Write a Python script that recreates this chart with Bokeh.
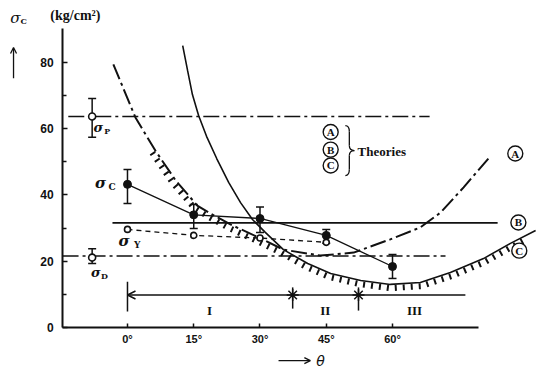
import numpy as np
from bokeh.plotting import figure
from bokeh.models import (Range1d, FixedTicker, Label, Arrow, OpenHead, Whisker,
                          TeeHead, ColumnDataSource)
from bokeh.core.properties import value
from bokeh.embed import file_html
from bokeh.resources import INLINE

# ---------------- data ----------------
theta_ticks = [0, 15, 30, 45, 60]
theta_tick_labels = ["0°", "15°", "30°", "45°", "60°"]
sigma_ticks = [0, 20, 40, 60, 80]
sigma_minor_ticks = [10, 30, 50, 70]

# sigma_C measured (mean, upper, lower)
sc_theta = [0, 15, 30, 45, 60]
sc_mean = [43.2, 34.0, 32.9, 27.8, 18.4]
sc_upper = [47.7, 37.1, 36.4, 29.6, 22.0]
sc_lower = [37.4, 29.9, 28.7, 25.4, 14.8]

# sigma_Y measured
sy_theta = [0, 15, 30, 45]
sy_mean = [29.6, 27.8, 27.0, 25.7]

# sigma_P and sigma_D (left of 0 deg)
sp_theta = [-8]
sp_mean = [63.7]
sp_upper = [69.1]
sp_lower = [57.4]
sd_theta = [-8]
sd_mean = [21.1]
sd_upper = [23.8]
sd_lower = [19.3]

# theory curve A (dash-dot)
theory_a_theta = [-3.2, 1.8, 6.3, 10.9, 15.8, 18.8, 23.3, 30.1, 35.3, 43.7,
                  51.2, 59.5, 66.3, 70.9, 76.1, 81.7]
theory_a_value = [79.4, 63.4, 53.4, 44.4, 36.8, 34.4, 31.1, 26.9, 23.5, 21.7,
                  22.6, 26.6, 30.2, 34.7, 42.3, 51.0]

# theory curve C (solid)
theory_c_theta = [12.5, 13.6, 14.7, 16.1, 17.9, 20.2, 22.9, 25.6, 28.3, 31.2,
                  35.3, 40.8, 46.0, 52.8, 59.5, 66.3, 73.1, 80.6, 86.7, 92.4]
theory_c_value = [85.1, 77.6, 70.3, 64.0, 57.7, 51.0, 43.8, 37.7, 32.6, 28.7,
                  23.5, 19.3, 16.3, 14.2, 13.0, 13.6, 16.6, 20.8, 25.4, 29.3]

# hatched lower envelope
envelope_theta = [6.3, 10.9, 15.8, 18.8, 23.3, 30.1, 35.3, 40.8, 46.0, 52.8,
                  59.5, 66.3, 73.1, 80.6, 86.7, 90.1]
envelope_value = [53.4, 44.4, 36.8, 34.4, 31.1, 26.9, 23.5, 19.3, 16.3, 14.2,
                  13.0, 13.6, 16.6, 20.8, 25.4, 27.8]

# horizontal theory levels
level_p, level_p_span = 63.7, (-13.4, 68.4)
level_b, level_b_span = 31.6, (-3.4, 83.8)
level_d, level_d_span = 21.6, (-14.7, 72.0)

# failure-mode regions
region_level = 9.8
region_start, region_end = 0, 76.5
region_bounds = [37.4, 52.3]
region_names = ["I", "II", "III"]
region_name_theta = [18.6, 44.8, 65.0]
region_name_value = [5.1, 5.1, 5.1]

# axis extents
theta_axis_bounds = (-14.7, 79.5)
sigma_axis_bounds = (0, 90.3)

# ---------------- figure ----------------
W_PX, H_PX = 536, 368
X_START, X_END = -28.75, 92.6
Y_START, Y_END = -12.38, 98.7
SX = W_PX / (X_END - X_START)
SY = H_PX / (Y_END - Y_START)


def dxp(d):
    return d / SX


def dyp(d):
    return d / SY


p = figure(width=W_PX, height=H_PX, x_range=Range1d(X_START, X_END),
           y_range=Range1d(Y_START, Y_END), output_backend="svg",
           toolbar_location=None, min_border=0, min_border_left=0,
           min_border_right=0, min_border_top=0, min_border_bottom=0)
p.outline_line_color = None
p.xgrid.visible = False
p.ygrid.visible = False
p.background_fill_color = "white"
p.border_fill_color = "white"

BLACK = "#111111"

ya = p.yaxis[0]
ya.fixed_location = theta_axis_bounds[0]
ya.ticker = FixedTicker(ticks=sigma_ticks, minor_ticks=sigma_minor_ticks)
ya.bounds = sigma_axis_bounds
ya.axis_line_width = 2
ya.axis_line_color = BLACK
ya.major_tick_in = 5
ya.major_tick_out = 0
ya.minor_tick_in = 4
ya.minor_tick_out = 0
ya.major_tick_line_width = 1.5
ya.minor_tick_line_width = 1.5
ya.major_tick_line_color = BLACK
ya.minor_tick_line_color = BLACK
ya.major_label_standoff = 9
ya.major_label_text_font = "Liberation Sans"
ya.major_label_text_font_style = "bold"
ya.major_label_text_font_size = "12px"
ya.major_label_text_color = BLACK

xa = p.xaxis[0]
xa.fixed_location = 0
xa.ticker = FixedTicker(ticks=theta_ticks, minor_ticks=[])
xa.major_label_overrides = dict(zip(theta_ticks, theta_tick_labels))
xa.bounds = theta_axis_bounds
xa.axis_line_width = 2
xa.axis_line_color = BLACK
xa.major_tick_in = 4
xa.major_tick_out = 0
xa.major_tick_line_width = 1.5
xa.major_tick_line_color = BLACK
xa.major_label_standoff = 6
xa.major_label_text_font = "Liberation Sans"
xa.major_label_text_font_style = "bold"
xa.major_label_text_font_size = "11px"
xa.major_label_text_color = BLACK

# ---- theory curves ----
p.line(theory_a_theta, theory_a_value, line_color=BLACK, line_width=2,
       line_dash="16 4 3 4")
p.line(theory_c_theta, theory_c_value, line_color=BLACK, line_width=1.6)

# hatch marks below the envelope
ex = np.array(envelope_theta) * SX
ey = np.array(envelope_value) * SY
tx = np.gradient(ex)
ty = np.gradient(ey)
nn = np.hypot(tx, ty)
tx, ty = tx / nn, ty / nn
nx, ny = ty, -tx
off = 3.8
hx = (ex + nx * off) / SX
hy = (ey + ny * off) / SY
p.line(hx, hy, line_color=BLACK, line_width=6, line_dash="2 6",
       line_cap="butt")

# horizontal levels
p.line(list(level_p_span), [level_p, level_p], line_color=BLACK,
       line_width=1.6, line_dash="16 4 3 4")
p.line(list(level_b_span), [level_b, level_b], line_color=BLACK,
       line_width=1.8)
p.line(list(level_d_span), [level_d, level_d], line_color=BLACK,
       line_width=1.6, line_dash="16 4 3 4")

# ---- measured series ----
p.line(sc_theta, sc_mean, line_color=BLACK, line_width=1.3)
p.line(sy_theta, sy_mean, line_color=BLACK, line_width=1.3, line_dash="5 4")

for th, lo, hi in [(sc_theta, sc_lower, sc_upper), (sp_theta, sp_lower, sp_upper),
                   (sd_theta, sd_lower, sd_upper)]:
    src = ColumnDataSource(dict(x=th, lo=lo, hi=hi))
    w = Whisker(source=src, base="x", lower="lo", upper="hi", line_width=1.5,
                line_color=BLACK,
                upper_head=TeeHead(size=8, line_width=1.5, line_color=BLACK),
                lower_head=TeeHead(size=8, line_width=1.5, line_color=BLACK))
    p.add_layout(w)

p.scatter(sc_theta, sc_mean, size=8, fill_color=BLACK, line_color=BLACK)
p.scatter(sy_theta, sy_mean, size=6, fill_color="white", line_color=BLACK,
          line_width=1.6)
p.scatter(sp_theta, sp_mean, size=7, fill_color="white", line_color=BLACK,
          line_width=1.6)
p.scatter(sd_theta, sd_mean, size=7, fill_color="white", line_color=BLACK,
          line_width=1.6)

# ---- region line ----
p.add_layout(Arrow(end=OpenHead(size=8, line_width=1.5, line_color=BLACK),
                   x_start=region_end, y_start=region_level,
                   x_end=region_start, y_end=region_level,
                   line_width=1.5, line_color=BLACK))
p.segment(x0=[region_start], y0=[4.8], x1=[region_start], y1=[13.8],
          line_color=BLACK, line_width=1.5)
p.segment(x0=region_bounds, y0=[5.7, 5.1], x1=region_bounds, y1=[12.1, 12.1],
          line_color=BLACK, line_width=1.5)
p.scatter(region_bounds, [region_level] * len(region_bounds), marker="asterisk",
          size=12, line_color=BLACK, line_width=1.5)
p.text(x=region_name_theta, y=region_name_value, text=region_names,
       text_font=value("Liberation Serif"), text_font_style="bold",
       text_font_size=value("13px"), text_align="center",
       text_baseline="middle", text_color=BLACK)


# ---- sigma labels ----
def sigma_label(x, y, sub, size=15, subsize=9, dx=2.6, dy=-1.2, style="bold italic"):
    p.text(x=[x], y=[y], text=["σ"], text_font=value("DejaVu Serif"),
           text_font_style=style, text_font_size=value(f"{size}px"),
           text_align="center", text_baseline="middle", text_color=BLACK)
    p.text(x=[x + dx], y=[y + dy], text=[sub], text_font=value("DejaVu Serif"),
           text_font_style="bold", text_font_size=value(f"{subsize}px"),
           text_align="center", text_baseline="middle", text_color=BLACK)


sigma_label(-6.1, 43.5, "C")
sigma_label(-0.8, 26.0, "Y", dx=3.0)
sigma_label(-6.6, 60.4, "P", size=13, subsize=8, dx=2.0)
sigma_label(-7.2, 16.6, "D", size=13, subsize=8, dx=2.0)
# y-axis title
sigma_label(-25.4, 93.4, "C", size=15, subsize=8, dx=1.9, dy=-0.9, style="italic")

# ---- circled theory letters ----
circ_theta = [46.0, 46.0, 46.0, 87.8, 88.5, 88.7]
circ_value = [59.0, 53.7, 48.9, 52.5, 31.7, 23.2]
circ_text = ["A", "B", "C", "A", "B", "C"]
p.scatter(circ_theta, circ_value, size=15, fill_color="white",
          line_color=BLACK, line_width=1.4)
p.text(x=circ_theta, y=circ_value, text=circ_text,
       text_font=value("Liberation Serif"), text_font_style="bold",
       text_font_size=value("11px"), text_align="center",
       text_baseline="middle", text_color=BLACK)

# brace
bx, by = 50.0, 53.4
H, W = 25, 6
for s in (1, -1):
    p.quadratic(x0=[bx - dxp(3)], y0=[by + s * dyp(H)],
                x1=[bx + dxp(1)], y1=[by + s * dyp(H - 6)],
                cx=[bx + dxp(1)], cy=[by + s * dyp(H)],
                line_color=BLACK, line_width=1.3)
    p.segment(x0=[bx + dxp(1)], y0=[by + s * dyp(H - 6)],
              x1=[bx + dxp(1)], y1=[by + s * dyp(5)],
              line_color=BLACK, line_width=1.3)
    p.quadratic(x0=[bx + dxp(1)], y0=[by + s * dyp(5)],
                x1=[bx + dxp(W)], y1=[by],
                cx=[bx + dxp(1)], cy=[by],
                line_color=BLACK, line_width=1.3)

p.text(x=[52.1], y=[53.2], text=["Theories"],
       text_font=value("Liberation Serif"), text_font_style="bold",
       text_font_size=value("13px"), text_align="left",
       text_baseline="middle", text_color=BLACK)

# ---- axis titles ----
p.add_layout(Label(x=-11.8, y=94.2, text="(kg/cm²)",
                   text_font="Liberation Serif", text_font_style="bold",
                   text_font_size="14px", text_align="center",
                   text_baseline="middle", text_color=BLACK))
p.add_layout(Arrow(end=OpenHead(size=6, line_width=1.3, line_color=BLACK),
                   x_start=-25.8, y_start=75.2, x_end=-25.8, y_end=84.5,
                   line_width=1.3, line_color=BLACK))
p.add_layout(Arrow(end=OpenHead(size=6, line_width=1.3, line_color=BLACK),
                   x_start=34.2, y_start=-10.0, x_end=41.4, y_end=-10.0,
                   line_width=1.3, line_color=BLACK))
p.add_layout(Label(x=43.7, y=-10.0, text="θ", text_font="DejaVu Sans",
                   text_font_style="italic", text_font_size="14px",
                   text_align="center", text_baseline="middle",
                   text_color=BLACK))

open("out.html", "w").write(file_html(p, INLINE))
